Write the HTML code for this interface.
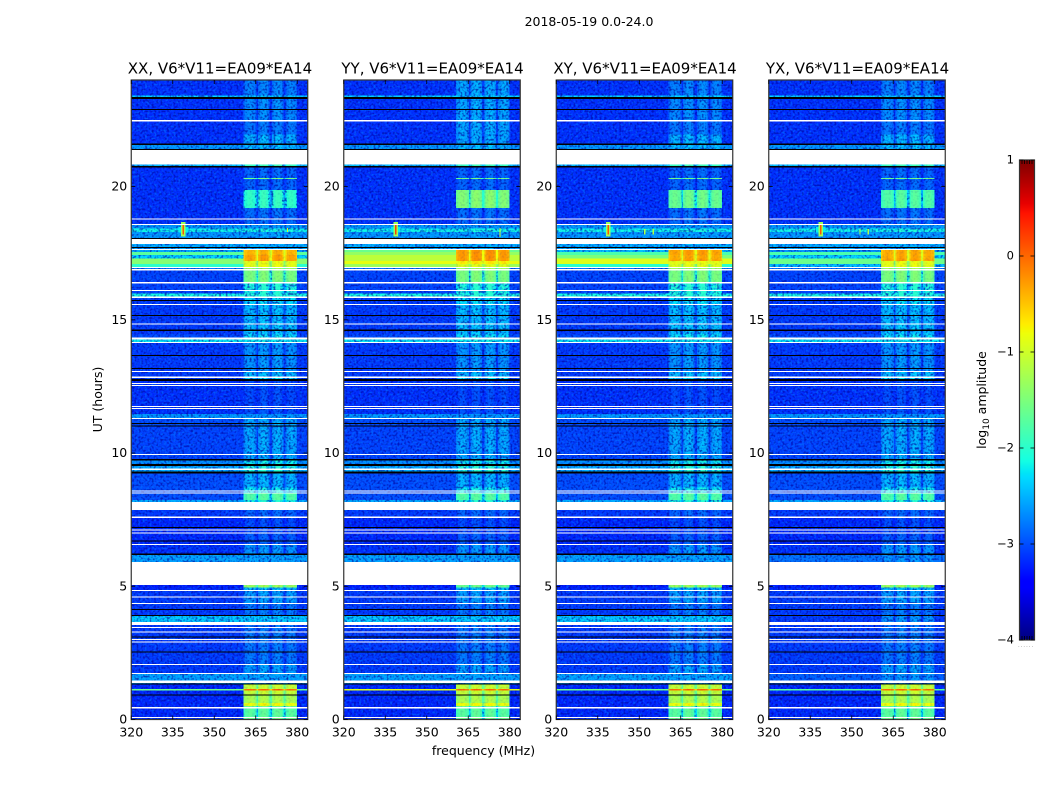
<!DOCTYPE html>
<html lang="en">
<head>
<meta charset="utf-8">
<title>2018-05-19 0.0-24.0</title>
<style>
html,body{margin:0;padding:0;background:#fff;}
svg{display:block;}
text{font-family:"DejaVu Sans","Liberation Sans",sans-serif;fill:#000;}
.tick{font-size:12.5px;}
.ttl{font-size:15px;}
.lab{font-size:12.5px;}
</style>
</head>
<body>
<svg id="fig" xmlns="http://www.w3.org/2000/svg" width="1050" height="800" viewBox="0 0 1050 800">
  <defs>
    <filter id="grainLight" x="0" y="0" width="100%" height="100%" color-interpolation-filters="sRGB">
      <feTurbulence type="fractalNoise" baseFrequency="0.42 0.5" numOctaves="1" seed="4"/>
      <feColorMatrix type="matrix" values="0 0 0 0 0  0 0 0 0 0.45  0 0 0 0 1  4 0 0 0 -1.9"/>
    </filter>
    <filter id="grainDark" x="0" y="0" width="100%" height="100%" color-interpolation-filters="sRGB">
      <feTurbulence type="fractalNoise" baseFrequency="0.46 0.46" numOctaves="1" seed="11"/>
      <feColorMatrix type="matrix" values="0 0 0 0 0  0 0 0 0 0  0 0 0 0 0.6  0 4 0 0 -1.9"/>
    </filter>
  </defs>
  <text id="sup" x="589" y="26" text-anchor="middle" class="lab">2018-05-19 0.0-24.0</text>
  <g id="panels"></g>
  <text x="483.5" y="755" text-anchor="middle" class="lab">frequency (MHz)</text>
  <text transform="translate(102,399.5) rotate(-90)" text-anchor="middle" class="lab">UT (hours)</text>
  <g id="cbar"></g>
  <text transform="translate(986,400) rotate(-90)" text-anchor="middle" class="lab">log<tspan font-size="9" dy="3">10</tspan><tspan dy="-3"> amplitude</tspan></text>
  <text x="1026" y="647" text-anchor="middle" font-size="6" style="fill:#999;letter-spacing:0.8px">......</text>
</svg>
<script>
/* ---------- data ---------- */
const panelNames = ["XX", "YY", "XY", "YX"];
const baselineLabel = "V6*V11=EA09*EA14";
const xTicks = [320, 335, 350, 365, 380];
const yTicks = [0, 5, 10, 15, 20];
const colorTicks = [1, 0, -1, -2, -3, -4];

/* spectral windows, MHz */
const subbandStart = [360.6, 365.9, 370.9, 375.7];
const subbandEnd = [365.2, 369.9, 375.0, 380.0];
const subbandGain = [0, 0.05, 0.05, 0];
/* passband shape across one window: level drop in five slices */
const passbandSlices = [0, 0.12, 0.3, 0.7, 0.88, 1];
const passbandDrop = [-0.2, -0.07, 0, -0.07, -0.2];

/* time rows: top hour of each row, with log10 amplitude off-band and in-band */
const rowTops = [24,23.42,23.29,22.45,21.95,21.58,21.37,20.83,20.72,20.32,20.28,19.87,19.19,18.59,18.56,18.42,18.3,18.03,17.84,17.65,17.62,17.55,17.43,17.3,17.2,17.09,16.99,16.9,16.37,15.99,15.82,15.59,14.82,14.45,14.33,14.13,13.08,12.81,12.7,11.65,11.47,11.28,10.99,9.72,9.59,9.51,9.23,8.7,8.48,8.24,7.86,7.56,6.98,6.54,6.17,5.05,4.95,4.82,4.33,3.88,3.55,2.08,1.71,1.35,1.15,1.08,0.9,0.62,0.5,0.42,0.09];
const bgLevels = [-3.15,-2.3,-3.15,-3.15,-3.15,-2.6,-3,-2.4,-3.15,-3.15,-3.15,-3.15,-3.15,-2.85,-2.6,-2.15,-2.6,-3,-2.5,-3,-2.5,-1.7,-2.3,-1.45,-1.45,-2,-2.8,-3.05,-3.05,-2.1,-3.1,-3.1,-3.1,-3,-2.2,-3.1,-3.1,-3.1,-3.15,-3.15,-2.6,-3,-3.05,-2.65,-3,-2.5,-3,-3,-3,-2.5,-3.1,-3.2,-3.2,-3.15,-2.55,-3.25,-3.2,-3.1,-3.1,-2.35,-3.1,-3.1,-2.55,-3.2,-1.6,-3.2,-3.2,-3.2,-3.2,-3.2,-3.2];
const blockLevels = [-2.7,-2.3,-2.65,-2.75,-2.45,-2.4,-3,-1.9,-2.85,-1.55,-2.85,-1.95,-2.8,-2.7,-2.6,-2.1,-2.55,-3,-2.5,-3,-0.4,-0.4,-0.3,-0.3,-0.85,-0.85,-1.3,-1.5,-2.05,-2.05,-2.25,-2.4,-2.35,-2.2,-2.15,-2.6,-2.4,-2.25,-3,-2.95,-2.7,-2.5,-2.5,-2.15,-2.45,-2.05,-2.45,-2.15,-1.75,-2.05,-2.85,-3,-2.9,-2.6,-2.6,-1.3,-2.35,-2.55,-2.75,-2.45,-2.75,-2.55,-2.55,-1.05,0,-1.05,-1.2,-0.8,-1.6,-1.7,-1.55];

/* per-polarisation differences: top hour, bottom hour, off-band, in-band */
const overridesXX = [];
const overridesYY = [[24,21.58,null,-2.5],[19.87,19.19,null,-1.45],[17.62,17.55,-1.6,-0.25],[17.55,17.43,-1.35,-0.25],[17.43,17.2,-1.1,-0.25],[17.2,17.09,-0.85,-0.7],[17.09,16.99,-1.3,-0.9],[5.05,4.95,null,-1.6],[1.15,1.08,-0.9,null]];
const overridesXY = [[19.87,19.19,null,-1.6],[17.62,17.55,-2.4,-0.3],[17.55,17.43,-1.8,-0.3],[17.43,17.3,-1.5,-0.35],[17.3,17.09,-0.9,null],[17.09,16.99,-2,-0.9]];
const overridesYX = [[19.87,19.19,null,-1.75],[17.62,17.55,-2.6,-0.35],[17.55,17.43,-1.8,-0.35],[17.43,17.3,-2.3,-0.35],[17.3,17.09,-1.6,null],[17.09,16.99,-2.4,null],[6.17,5.05,-2.8,-2.6],[3.88,3.55,-3.1,-2.6],[1.71,1.35,-2.9,-2.6],[1.15,1.08,-1.7,null]];

/* narrow interference: panel index, MHz, width MHz, top hour, bottom hour, level */
const rfiPanel = [0,1,2,3,0,0,1,1,2,2,3,3,0,1,2,2,3,3];
const rfiFreq = [338.8,338.8,338.8,338.8,338.8,338.8,338.8,338.8,338.8,338.8,338.8,338.8,376.5,376.5,352,355,353,356];
const rfiWidth = [3.5,3.5,3.5,3.5,1.6,0.7,1.6,0.7,1.6,0.7,1.6,0.7,0.5,0.5,0.5,0.5,0.5,0.5];
const rfiTop = [18.48,18.48,18.48,18.48,18.68,18.6,18.68,18.6,18.68,18.6,18.68,18.6,18.45,18.45,18.4,18.4,18.4,18.4];
const rfiBottom = [18.28,18.28,18.28,18.28,18.12,18.2,18.12,18.2,18.12,18.2,18.12,18.2,18.3,18.1,18.2,18.2,18.2,18.2];
const rfiLevel = [-2.2,-2.2,-2.2,-2.2,-1.3,0.1,-1.3,0.2,-1.3,0.1,-1.3,0.1,-1,-1,-1.2,-1.2,-1.2,-1.2];

/* missing time ranges (white), hours */
const gapTop = [22.5,21.37,18.81,18.59,18.03,17.65,16.99,16.9,16.42,16.12,15.87,15.59,14.87,14.33,14.17,13.08,12.87,12.63,12.55,11.76,11.69,11.31,9.96,9.42,8.59,8.52,8.16,7.62,7.13,7.02,6.59,5.91,4.86,4.61,4.37,3.66,3.47,3.3,3.02,2.93,2.08,1.74,1.46,0.47,0.09];
const gapBottom = [22.45,20.83,18.76,18.56,17.84,17.62,16.96,16.86,16.37,16.08,15.82,15.55,14.82,14.26,14.13,13.04,12.81,12.59,12.51,11.73,11.65,11.28,9.93,9.36,8.56,8.48,7.86,7.56,7.09,6.98,6.54,5.05,4.82,4.57,4.33,3.55,3.43,3.26,2.98,2.89,2.05,1.71,1.37,0.42,0.06];

/* flagged time ranges (black), hours */
const flagTop = [23.36,22.91,21.61,21.41,20.77,18.07,17.73,15.74,15.18,14.63,13.68,13.19,12.78,11.13,11.03,9.77,9.59,9.31,7.22,6.72,6.23,4.15,3.92,3.11,2.55,1.35,0.94];
const flagBottom = [23.29,22.87,21.56,21.37,20.72,18.03,17.69,15.7,15.14,14.58,13.64,13.15,12.7,11.09,10.99,9.72,9.51,9.23,7.19,6.68,6.17,4.11,3.88,3.08,2.51,1.31,0.9];

/* ---------- scales ---------- */
const NS = "http://www.w3.org/2000/svg";
const plotTop = 80, plotBottom = 719.5, plotWidth = 176.5;
const fMin = 320, fMax = 383.8, hMax = 24, cMin = -4, cMax = 1;
const panelLeft = i => 131.25 + 212.5 * i;
const xScale = (i, f) => panelLeft(i) + (f - fMin) / (fMax - fMin) * plotWidth;
const yScale = h => plotBottom - h / hMax * (plotBottom - plotTop);
const cScale = v => 640 - (v - cMin) / (cMax - cMin) * 480;

function ramp(t, pts) {
  for (let k = 1; k < pts.length; k++) {
    if (t <= pts[k][0]) {
      const a = pts[k - 1], b = pts[k];
      return a[1] + (b[1] - a[1]) * (t - a[0]) / (b[0] - a[0]);
    }
  }
  return pts[pts.length - 1][1];
}
function jet(level) {
  const t = Math.max(0, Math.min(1, (level - cMin) / (cMax - cMin)));
  const r = ramp(t, [[0,0],[0.35,0],[0.66,1],[0.89,1],[1,0.5]]);
  const g = ramp(t, [[0,0],[0.125,0],[0.375,1],[0.64,1],[0.91,0],[1,0]]);
  const b = ramp(t, [[0,0.5],[0.11,1],[0.34,1],[0.65,0],[1,0]]);
  return "rgb(" + Math.round(r * 255) + "," + Math.round(g * 255) + "," + Math.round(b * 255) + ")";
}
function svgEl(tag, parent, props) {
  const el = document.createElementNS(NS, tag);
  for (const k in props) el.setAttribute(k, props[k]);
  parent.appendChild(el);
  return el;
}
function cell(parent, x0, x1, y0, y1, fill) {
  const el = svgEl("rect", parent, {x: x0, y: y0, width: Math.max(0.5, x1 - x0), height: Math.max(0.5, y1 - y0), fill: fill, "shape-rendering": "crispEdges"});
  
  
  return el;
}

/* ---------- panels ---------- */
const panelsRoot = document.getElementById("panels");
const overrideSets = [overridesXX, overridesYY, overridesXY, overridesYX];

panelNames.forEach((name, p) => {
  const left = panelLeft(p), right = left + plotWidth;
  const g = svgEl("g", panelsRoot, {});
  
  
  const weak = svgEl("g", g, {});
  
  

  const grainA = svgEl("rect", g, {x: left, y: plotTop, width: plotWidth, height: plotBottom - plotTop, filter: "url(#grainLight)", opacity: 0.6});
  
  
  const grainB = svgEl("rect", g, {x: left, y: plotTop, width: plotWidth, height: plotBottom - plotTop, filter: "url(#grainDark)", opacity: 0.6});
  
  

  const strong = svgEl("g", g, {});
  
  

  rowTops.forEach((top, r) => {
    const bottom = r + 1 < rowTops.length ? rowTops[r + 1] : 0;
    const mid = (top + bottom) / 2;
    let bg = bgLevels[r], blk = blockLevels[r];
    overrideSets[p].forEach(o => {
      if (mid <= o[0] && mid >= o[1]) {
        if (o[2] !== null) bg = o[2];
        if (o[3] !== null) blk = o[3];
      }
    });
    const y0 = yScale(top), y1 = yScale(bottom);
    const layer = v => (v > -2.05 ? strong : weak);
    /* off-band across the entire row */
    cell(layer(bg), left, right, y0, y1, jet(bg));
    subbandStart.forEach((fs, s) => {
      const fe = subbandEnd[s];
      const lvl = blk + subbandGain[s];
      passbandDrop.forEach((drop, d) => {
        const v = Math.max(bg, lvl + drop);
        const f0 = fs + (fe - fs) * passbandSlices[d];
        const f1 = fs + (fe - fs) * passbandSlices[d + 1];
        cell(layer(v), xScale(p, f0), xScale(p, f1), y0, y1, jet(v));
      });
      if (s < subbandStart.length - 1) {
        const gapLvl = Math.max(bg, lvl - 0.6);
        cell(layer(gapLvl), xScale(p, fe), xScale(p, subbandStart[s + 1]), y0, y1, jet(gapLvl));
      }
    });
  });

  /* faint speckle over the in-band region, on top of the strong cells */
  const grainC = svgEl("rect", g, {x: xScale(p, subbandStart[0]), y: plotTop, width: xScale(p, subbandEnd[3]) - xScale(p, subbandStart[0]), height: plotBottom - plotTop, filter: "url(#grainDark)", opacity: 0.1});
  
  

  rfiFreq.forEach((f, k) => {
    if (rfiPanel[k] !== p) return;
    cell(g, xScale(p, f - rfiWidth[k] / 2), xScale(p, f + rfiWidth[k] / 2), yScale(rfiTop[k]), yScale(rfiBottom[k]), jet(rfiLevel[k]));
  });

  gapTop.forEach((t, k) => {
    const el = svgEl("rect", g, {x: left, y: yScale(t), width: plotWidth, height: Math.max(1, yScale(gapBottom[k]) - yScale(t)), fill: "#fff", "shape-rendering": "crispEdges"});
    
    
  });
  flagTop.forEach((t, k) => {
    const el = svgEl("rect", g, {x: left, y: yScale(t), width: plotWidth, height: Math.max(1, yScale(flagBottom[k]) - yScale(t)), fill: "#000", "shape-rendering": "crispEdges"});
    
    
  });

  /* frame */
  const frame = svgEl("rect", g, {x: left, y: plotTop, width: plotWidth, height: plotBottom - plotTop, fill: "none", stroke: "#333", "stroke-width": 1.2});
  
  

  /* ticks */
  xTicks.forEach(v => {
    const x = xScale(p, v);
    const t1 = svgEl("line", g, {x1: x, x2: x, y1: plotBottom, y2: plotBottom - 4, stroke: "#000", "stroke-width": 0.8});
    
    
    const t2 = svgEl("line", g, {x1: x, x2: x, y1: plotTop, y2: plotTop + 4, stroke: "#000", "stroke-width": 0.8});
    
    
    const lab = svgEl("text", g, {x: x, y: plotBottom + 17, "text-anchor": "middle", class: "tick"});
    
    
    lab.textContent = v;
  });
  yTicks.forEach(v => {
    const y = yScale(v);
    const t1 = svgEl("line", g, {x1: left, x2: left + 4, y1: y, y2: y, stroke: "#000", "stroke-width": 0.8});
    
    
    const t2 = svgEl("line", g, {x1: right, x2: right - 4, y1: y, y2: y, stroke: "#000", "stroke-width": 0.8});
    
    
    const lab = svgEl("text", g, {x: left - 4, y: y + 4, "text-anchor": "end", class: "tick"});
    
    
    lab.textContent = v;
  });

  const title = svgEl("text", g, {x: left + plotWidth / 2 + 0.5, y: 73.5, "text-anchor": "middle", class: "ttl"});
  
  
  title.textContent = name + ", " + baselineLabel;
});

/* ---------- colour bar ---------- */
const cbar = document.getElementById("cbar");
const cbLeft = 1019.5, cbWidth = 15;
const cbSteps = 240;
for (let i = 0; i < cbSteps; i++) {
  const v0 = cMin + (cMax - cMin) * i / cbSteps;
  const v1 = cMin + (cMax - cMin) * (i + 1) / cbSteps;
  const el = svgEl("rect", cbar, {x: cbLeft, y: cScale(v1), width: cbWidth, height: cScale(v0) - cScale(v1) + 0.5, fill: jet((v0 + v1) / 2), "shape-rendering": "crispEdges"});
  
  
}
const cbFrame = svgEl("rect", cbar, {x: cbLeft, y: 160, width: cbWidth, height: 480, fill: "none", stroke: "#333", "stroke-width": 1.2});


colorTicks.forEach(v => {
  const y = cScale(v);
  const a = svgEl("line", cbar, {x1: cbLeft, x2: cbLeft + 4, y1: y, y2: y, stroke: "#000", "stroke-width": 0.8});
  
  
  const b = svgEl("line", cbar, {x1: cbLeft + cbWidth - 4, x2: cbLeft + cbWidth, y1: y, y2: y, stroke: "#000", "stroke-width": 0.8});
  
  
  const lab = svgEl("text", cbar, {x: 1014, y: y + 3.5, "text-anchor": "end", style: "font-size:11.5px"});
  
  
  lab.textContent = String(v).replace("-", "\u2212");
});
for (let m = 1; m <= 5; m++) {
  const x = cbLeft + cbWidth * m / 6;
  const top = svgEl("line", cbar, {x1: x, x2: x, y1: 160, y2: 164, stroke: "#000", "stroke-width": 0.8});
  
  
  const bot = svgEl("line", cbar, {x1: x, x2: x, y1: 640, y2: 636, stroke: "#000", "stroke-width": 0.8});
  
  
}
</script>
</body>
</html>
